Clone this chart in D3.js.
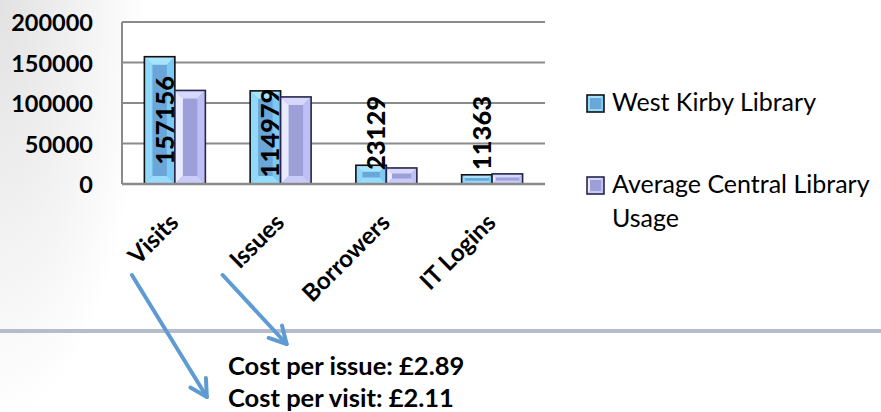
<!DOCTYPE html>
<html>
<head>
<meta charset="utf-8">
<script src="https://cdn.jsdelivr.net/npm/d3@7"></script>
<style>
  html, body { margin: 0; padding: 0; background: #fff; }
  svg { display: block; }
  text { font-family: "Lato", "Open Sans", sans-serif; }
</style>
</head>
<body>
<svg id="chart" width="881" height="412"></svg>
<script>
// Library usage figures
const categories = ["Visits", "Issues", "Borrowers", "IT Logins"];
const seriesNames = ["West Kirby Library", "Average Central Library Usage"];
const westKirby = [157156, 114979, 23129, 11363];
const centralAverage = [115500, 107500, 19800, 12500];
const yTicks = [0, 50000, 100000, 150000, 200000];
const costLines = ["Cost per issue: £2.89", "Cost per visit: £2.11"];

const W = 881, H = 412;
const plot = { left: 122, right: 545, top: 22, bottom: 184 };

const svg = d3.select("#chart");
const defs = svg.append("defs");

// soft grey wash in the top-left corner of the slide
const bg = defs.append("radialGradient").attr("id", "bgWash")
  .attr("gradientUnits", "userSpaceOnUse")
  .attr("cx", 0).attr("cy", 0).attr("r", 420)
  .attr("gradientTransform", "scale(0.35,1)");
bg.append("stop").attr("offset", "0").attr("stop-color", "#e2e2e2");
bg.append("stop").attr("offset", "0.6").attr("stop-color", "#f3f3f3");
bg.append("stop").attr("offset", "1").attr("stop-color", "#ffffff");
svg.append("rect").attr("width", W).attr("height", H).attr("fill", "#fff");
svg.append("rect").attr("width", W).attr("height", H).attr("fill", "url(#bgWash)");

// plot area background
svg.append("rect")
  .attr("x", plot.left).attr("y", plot.top)
  .attr("width", plot.right - plot.left).attr("height", plot.bottom - plot.top)
  .attr("fill", "#fff");

const x = d3.scaleBand().domain(categories).range([plot.left, plot.right]).padding(0);
const xs = d3.scaleBand().domain(seriesNames).range([0, x.bandwidth()])
  .paddingInner(0).paddingOuter(0.734);
const y = d3.scaleLinear().domain([0, 200000]).range([plot.bottom, plot.top]);

// gridlines
svg.append("g").selectAll("line").data(yTicks).join("line")
  .attr("x1", plot.left).attr("x2", plot.right)
  .attr("y1", d => y(d)).attr("y2", d => y(d))
  .attr("stroke", "#8a8a8a").attr("stroke-width", 2);
// vertical axis line
svg.append("line")
  .attr("x1", plot.left).attr("x2", plot.left)
  .attr("y1", y(200000)).attr("y2", y(0))
  .attr("stroke", "#8a8a8a").attr("stroke-width", 2);

// y axis labels
const yAxis = d3.axisLeft(y).tickValues(yTicks).tickSize(0).tickPadding(0)
  .tickFormat(d3.format("d"));
const yg = svg.append("g").attr("transform", `translate(${plot.left - 29},0)`).call(yAxis);
yg.select(".domain").remove();
yg.selectAll("text")
  .attr("font-family", "Lato").attr("font-weight", "bold")
  .attr("font-size", 23.5).attr("fill", "#000").attr("dy", "0.38em");

// bevelled bar
const palettes = {
  "West Kirby Library": { top: "#a9e4ff", left: "#90d9fd", right: "#7ccaf3", bottom: "#98dcfd", face: "#6ba6d8", stroke: "#111" },
  "Average Central Library Usage": { top: "#d5d7fb", left: "#e9eafe", right: "#bec0f5", bottom: "#c9cbf8", face: "#9c9fd8", stroke: "#26264a" }
};
function bevel(g, x0, y0, x1, y1, pal, inset, sw) {
  const h = y1 - y0, w = x1 - x0;
  const d = Math.max(1, Math.min(inset, h * 0.35, w * 0.3));
  const pts = a => a.map(p => p.join(",")).join(" ");
  g.append("rect").attr("x", x0).attr("y", y0).attr("width", w).attr("height", h).attr("fill", pal.face);
  g.append("polygon").attr("points", pts([[x0, y0], [x1, y0], [x1 - d, y0 + d], [x0 + d, y0 + d]])).attr("fill", pal.top);
  g.append("polygon").attr("points", pts([[x0, y0], [x0 + d, y0 + d], [x0 + d, y1 - d], [x0, y1]])).attr("fill", pal.left);
  g.append("polygon").attr("points", pts([[x1, y0], [x1, y1], [x1 - d, y1 - d], [x1 - d, y0 + d]])).attr("fill", pal.right);
  g.append("polygon").attr("points", pts([[x0, y1], [x0 + d, y1 - d], [x1 - d, y1 - d], [x1, y1]])).attr("fill", pal.bottom);
  g.append("rect").attr("x", x0).attr("y", y0).attr("width", w).attr("height", h)
    .attr("fill", "none").attr("stroke", pal.stroke).attr("stroke-width", sw);
}

const rows = categories.map((c, i) => ({ cat: c, values: [westKirby[i], centralAverage[i]] }));
const barsG = svg.append("g");
rows.forEach(r => {
  seriesNames.forEach((s, j) => {
    const x0 = x(r.cat) + xs(s);
    const g = barsG.append("g");
    bevel(g, x0, y(r.values[j]), x0 + xs.bandwidth(), y(0), palettes[s], 8, 1.6);
  });
});

// bottom axis line
svg.append("line")
  .attr("x1", plot.left).attr("x2", plot.right)
  .attr("y1", y(0)).attr("y2", y(0))
  .attr("stroke", "#8a8a8a").attr("stroke-width", 2.5);

// value labels for West Kirby
svg.append("g").selectAll("text").data(rows).join("text")
  .attr("transform", d => {
    const cx = x(d.cat) + xs(seriesNames[0]) + xs.bandwidth() / 2 + 4;
    const mid = (y(d.values[0]) + y(0)) / 2;
    const cy = Math.min(mid, y(0) - 51);
    return `translate(${cx},${cy}) rotate(-90)`;
  })
  .attr("text-anchor", "middle").attr("dominant-baseline", "central")
  .attr("font-weight", 900).attr("font-size", 25.5).attr("fill", "#000")
  .text(d => d.values[0]);

// category labels
svg.append("g").selectAll("text").data(categories).join("text")
  .attr("transform", d => `translate(${x(d) + x.bandwidth() / 2 + 5},${plot.bottom + 40}) rotate(-45)`)
  .attr("text-anchor", "end")
  .attr("font-weight", "bold").attr("font-size", 24).attr("fill", "#000")
  .text(d => d);

// legend
const legend = svg.append("g").attr("transform", "translate(587,95)");
const legendRows = [
  { name: seriesNames[0], lines: ["West Kirby Library"], dy: 0 },
  { name: seriesNames[1], lines: ["Average Central Library", "Usage"], dy: 82 }
];
legendRows.forEach(l => {
  const g = legend.append("g").attr("transform", `translate(0,${l.dy})`);
  bevel(g, 0, 0, 17, 17, palettes[l.name], 3, 1.6);
  const t = g.append("text").attr("x", 25).attr("y", 16)
    .attr("font-size", 25).attr("fill", "#000");
  l.lines.forEach((ln, k) => t.append("tspan").attr("x", 25).attr("dy", k ? 34 : 0).text(ln));
});

// divider
svg.append("rect").attr("x", 0).attr("y", 329).attr("width", W).attr("height", 4).attr("fill", "#b3bdcc");

// arrows from the first two categories down to the cost notes
const arrowColor = "#5e9bd3";
function arrow(x1, y1, x2, y2) {
  const g = svg.append("g").attr("stroke", arrowColor).attr("stroke-width", 4)
    .attr("stroke-linecap", "round").attr("fill", "none");
  g.append("line").attr("x1", x1).attr("y1", y1).attr("x2", x2).attr("y2", y2);
  const a = Math.atan2(y2 - y1, x2 - x1), L = 19, s = 0.5;
  g.append("polyline").attr("stroke-linejoin", "round").attr("points", [
    [x2 - L * Math.cos(a - s), y2 - L * Math.sin(a - s)],
    [x2, y2],
    [x2 - L * Math.cos(a + s), y2 - L * Math.sin(a + s)]
  ].map(p => p.join(",")).join(" "));
}
const cVis = x("Visits") + x.bandwidth() / 2;
const cIss = x("Issues") + x.bandwidth() / 2;
arrow(cVis - 43, plot.bottom + 91, cVis + 32, plot.bottom + 213);
arrow(cIss - 58, plot.bottom + 91, cIss + 6, plot.bottom + 160);

// cost notes
svg.append("g").selectAll("text").data(costLines).join("text")
  .attr("x", 228).attr("y", (d, i) => 375 + i * 32)
  .attr("font-weight", "bold").attr("font-size", 25.5).attr("fill", "#000")
  .text(d => d);
</script>
</body>
</html>
